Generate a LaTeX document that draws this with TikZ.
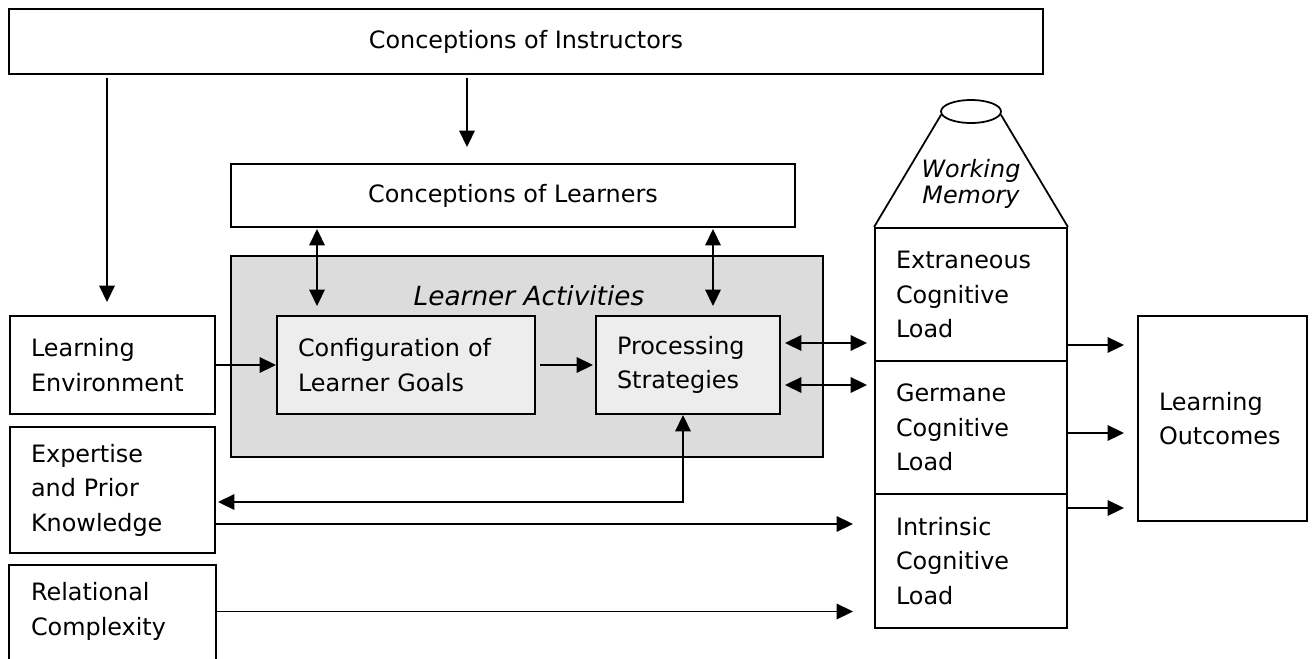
\documentclass[tikz,border=0pt]{standalone}
\usepackage{fontspec}
\setmainfont{DejaVu Sans}
\usetikzlibrary{arrows.meta,shapes.geometric}
\definecolor{actgray}{HTML}{DCDCDC}
\definecolor{goalgray}{HTML}{EDEDED}
\newcommand\diagfont{\fontsize{13.6}{19.6}\selectfont}
\tikzset{
	box/.style={draw, line width=1.1pt, font=\diagfont},
	lbox/.style={box, align=left, inner xsep=0.42cm, text width=#1},
	arr/.style={-{Triangle[length=3.3mm,width=3.1mm]}, line width=1.05pt},
	biarr/.style={{Triangle[length=3.3mm,width=3.1mm]}-{Triangle[length=3.3mm,width=3.1mm]}, line width=1.05pt}
}

\begin{document}
\begin{tikzpicture}[x=0.02cm, y=-0.02cm]
    \useasboundingbox (0,0) rectangle (1312,659);

    % Conceptions
    \node[box, minimum width=20.68cm, minimum height=1.3cm] (instr) at (526,41.5) {Conceptions of Instructors};
    \node[box, minimum width=11.28cm, minimum height=1.26cm] (learners) at (513,195.5) {Conceptions of Learners};

    % Learner activities
    \node[box, fill=actgray, minimum width=11.84cm, minimum height=4.02cm] (acts) at (527,356.5) {};
    \node[font=\fontsize{15}{18}\selectfont\itshape] (actlabel) at (529,296) {Learner Activities};
    \node[lbox=4.32cm, fill=goalgray, minimum height=1.96cm] (config) at (406,365) {Configuration of\\Learner Goals};
    \node[lbox=2.84cm, fill=goalgray, minimum height=1.96cm] (proc) at (688,365) {Processing\\Strategies};

    % Inputs on the left
    \node[lbox=3.26cm, minimum height=1.96cm] (env) at (112.5,365) {Learning\\Environment};
    \node[lbox=3.26cm, minimum height=2.52cm] (exp) at (112.5,490) {Expertise\\and Prior\\Knowledge};
    \node[lbox=3.26cm, draw=none, minimum height=1.82cm] (rel) at (112.5,611.5) {Relational\\Complexity};
    \draw[line width=1.1pt] ([yshift=-1cm]rel.south west) -- (rel.north west) -- (rel.north east) -- ([yshift=-1cm]rel.south east);

    % Working memory
    \node[lbox=3cm, minimum height=2.66cm] (ext) at (971,294.5) {Extraneous\\Cognitive\\Load};
    \node[lbox=3cm, minimum height=2.66cm] (ger) at (971,427.5) {Germane\\Cognitive\\Load};
    \node[lbox=3cm, minimum height=2.68cm] (intr) at (971,561) {Intrinsic\\Cognitive\\Load};
    \node[ellipse, draw, line width=1pt, minimum width=1.2cm, minimum height=0.46cm, inner sep=0pt] (cap) at (971,111.5) {};
    \draw[line width=1pt] (ext.north west) -- (cap.186);
    \draw[line width=1pt] (ext.north east) -- (cap.-6);
    \node[font=\fontsize{13.6}{14.7}\selectfont\itshape, align=center] (wmlabel) at (971,184) {Working\\Memory};

    \node[lbox=2.54cm, minimum height=4.1cm] (lo) at (1222.5,418.5) {Learning\\Outcomes};

    % Arrows from the top
    \draw[arr, shorten <=0.06cm, shorten >=0.26cm] ([xshift=-0.11cm]env.north |- instr.south) -- ([xshift=-0.11cm]env.north);
    \draw[arr, shorten <=0.06cm, shorten >=0.32cm] ([xshift=-0.92cm]learners.north |- instr.south) -- ([xshift=-0.92cm]learners.north);
    \draw[biarr, shorten <=0.02cm, shorten >=0.18cm] ([xshift=-1.78cm]config.north |- learners.south) -- ([xshift=-1.78cm]config.north);
    \draw[biarr, shorten <=0.02cm, shorten >=0.18cm] ([xshift=0.5cm]proc.north |- learners.south) -- ([xshift=0.5cm]proc.north);

    % Arrows inside and around the activities
    \draw[arr] (env) -- (config);
    \draw[arr, shorten <=0.08cm, shorten >=0.04cm] (config) -- (proc);
    \draw[biarr, shorten <=0.04cm] ([yshift=-0.24cm]exp.east) -| ([xshift=-0.1cm]proc.south);
    \foreach \dy in {0.44,-0.4}
      \draw[biarr, shorten <=0.08cm, shorten >=0.14cm] ([yshift=\dy cm]proc.east) -- ([yshift=\dy cm]proc.east -| ext.west);

    % Arrows into intrinsic load
    \draw[arr, shorten >=0.42cm] ([yshift=-0.68cm]exp.east) -- ([yshift=-0.68cm]exp.east -| intr.west);
    \draw[arr, shorten >=0.42cm] (rel.east) -- (rel.east -| intr.west);

    % Arrows to outcomes
    \foreach \src/\dy in {ext/-1.01, ger/-0.11, intr/1.06}
      \draw[arr, shorten >=0.26cm] ([yshift=\dy cm]\src.east) -- ([yshift=\dy cm]\src.east -| lo.west);
\end{tikzpicture}
\end{document}
